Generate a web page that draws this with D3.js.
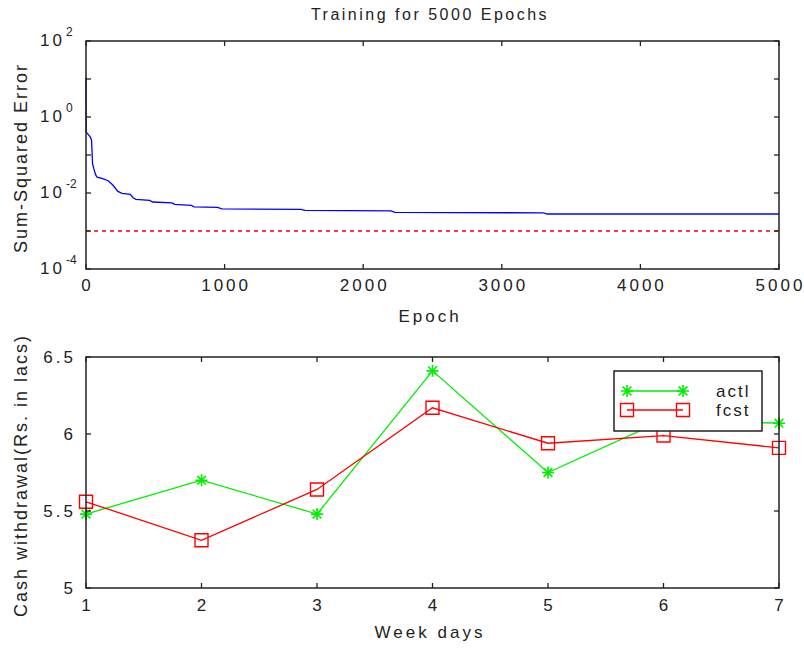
<!DOCTYPE html>
<html>
<head>
<meta charset="utf-8">
<script src="https://cdn.jsdelivr.net/npm/d3@7"></script>
<style>
  body { margin: 0; background: #fff; }
  text { font-family: "Liberation Sans", Arial, sans-serif; fill: #222; }
</style>
</head>
<body>
<svg id="chart"></svg>
<script>
// training curve (sum-squared error per epoch)
var epochs = [0, 2, 30, 40, 47, 55, 70, 80, 120, 160, 195, 230, 260, 320, 340, 360, 460, 480, 620, 640, 760, 780, 950, 980, 1550, 1580, 2200, 2230, 3300, 3330, 5000];
var sse    = [11, 0.4, 0.3, 0.25, 0.06, 0.045, 0.03, 0.026, 0.024, 0.021, 0.016, 0.011, 0.0098, 0.0092, 0.0075, 0.0068, 0.0064, 0.0058, 0.0055, 0.005, 0.0047, 0.0043, 0.0042, 0.0038, 0.0037, 0.0035, 0.0034, 0.0031, 0.003, 0.0028, 0.0028];
var goal = 0.001;
var epochTicks = [0, 1000, 2000, 3000, 4000, 5000];
var decadeTicks = [-4, -3, -2, -1, 0, 1, 2];
var decadeLabels = [-4, -2, 0, 2];

// forecast vs actual
var days = [1, 2, 3, 4, 5, 6, 7];
var actl = [5.48, 5.70, 5.48, 6.41, 5.75, 6.09, 6.07];
var fcst = [5.56, 5.31, 5.64, 6.17, 5.94, 5.99, 5.91];
var cashTicks = [5, 5.5, 6, 6.5];
var seriesNames = ["actl", "fcst"];

var width = 804, height = 648;
var svg = d3.select("#chart").attr("width", width).attr("height", height);

var left = 86, right = 779;
var top1 = 41, bot1 = 269;
var top2 = 357, bot2 = 588;
var axisColor = "#222", tickLen = 5;

// ---------- top plot ----------
var x1 = d3.scaleLinear().domain([0, 5000]).range([left, right]);
var y1 = d3.scaleLog().domain([1e-4, 1e2]).range([bot1, top1]);

var g1 = svg.append("g");

g1.append("path")
    .datum(epochs.map(function(e, i){ return [e, sse[i]]; }))
    .attr("fill", "none")
    .attr("stroke", "#0000ff")
    .attr("stroke-width", 1.3)
    .attr("d", d3.line().x(function(d){ return x1(d[0]); }).y(function(d){ return y1(d[1]); }));

g1.append("line")
    .attr("x1", x1(0)).attr("x2", x1(5000))
    .attr("y1", y1(goal)).attr("y2", y1(goal))
    .attr("stroke", "#ff0000")
    .attr("stroke-width", 1.3)
    .attr("stroke-dasharray", "4,4");

function frame(g, t, b) {
    g.append("rect")
        .attr("x", left).attr("y", t)
        .attr("width", right - left).attr("height", b - t)
        .attr("fill", "none").attr("stroke", axisColor).attr("stroke-width", 1.5);
}
frame(g1, top1, bot1);

epochTicks.forEach(function(v){
    var x = x1(v);
    g1.append("line").attr("x1", x).attr("x2", x).attr("y1", bot1).attr("y2", bot1 - tickLen).attr("stroke", axisColor).attr("stroke-width", 1.3);
    g1.append("line").attr("x1", x).attr("x2", x).attr("y1", top1).attr("y2", top1 + tickLen).attr("stroke", axisColor).attr("stroke-width", 1.3);
    g1.append("text")
        .attr("x", x + 1.5).attr("y", 291)
        .attr("text-anchor", "middle")
        .style("font-size", "17px").style("letter-spacing", "3px")
        .text(v);
});

decadeTicks.forEach(function(p){
    var y = y1(Math.pow(10, p));
    g1.append("line").attr("x1", left).attr("x2", left + tickLen).attr("y1", y).attr("y2", y).attr("stroke", axisColor).attr("stroke-width", 1.3);
    g1.append("line").attr("x1", right).attr("x2", right - tickLen).attr("y1", y).attr("y2", y).attr("stroke", axisColor).attr("stroke-width", 1.3);
});

decadeLabels.forEach(function(p){
    var y = y1(Math.pow(10, p));
    g1.append("text")
        .attr("x", 40).attr("y", y + 5)
        .style("font-size", "17px").style("letter-spacing", "3px")
        .text("10");
    g1.append("text")
        .attr("x", 66).attr("y", y - 5)
        .style("font-size", "12px")
        .text(p);
});

svg.append("text")
    .attr("x", 430).attr("y", 20)
    .attr("text-anchor", "middle")
    .style("font-size", "16px").style("letter-spacing", "2.5px")
    .text("Training for 5000 Epochs");

svg.append("text")
    .attr("x", 430).attr("y", 322)
    .attr("text-anchor", "middle")
    .style("font-size", "17px").style("letter-spacing", "3px")
    .text("Epoch");

svg.append("text")
    .attr("transform", "translate(27," + ((top1 + bot1) / 2 + 3) + ") rotate(-90)")
    .attr("text-anchor", "middle")
    .style("font-size", "18px").style("letter-spacing", "2px")
    .text("Sum-Squared Error");

// ---------- bottom plot ----------
var x2 = d3.scaleLinear().domain([1, 7]).range([left, right]);
var y2 = d3.scaleLinear().domain([5, 6.5]).range([bot2, top2]);

var g2 = svg.append("g");

var line2 = d3.line()
    .x(function(d, i){ return x2(days[i]); })
    .y(function(d){ return y2(d); });

// MATLAB style '*' marker: plus and cross
var star = {
    draw: function(ctx, size) {
        var r = Math.sqrt(size) / 2, q = r * 0.72;
        ctx.moveTo(-r, 0); ctx.lineTo(r, 0);
        ctx.moveTo(0, -r); ctx.lineTo(0, r);
        ctx.moveTo(-q, -q); ctx.lineTo(q, q);
        ctx.moveTo(-q, q); ctx.lineTo(q, -q);
    }
};
var starSym = d3.symbol(star, 144);
var squareSym = d3.symbol(d3.symbolSquare, 169);

var series = [
    { name: seriesNames[0], values: actl, color: "#00ee00", sym: starSym },
    { name: seriesNames[1], values: fcst, color: "#ff0000", sym: squareSym }
];

series.forEach(function(s){
    g2.append("path")
        .datum(s.values)
        .attr("fill", "none")
        .attr("stroke", s.color)
        .attr("stroke-width", 1.3)
        .attr("d", line2);
    g2.selectAll(null)
        .data(s.values)
        .enter().append("path")
        .attr("transform", function(d, i){ return "translate(" + x2(days[i]) + "," + y2(d) + ")"; })
        .attr("d", s.sym)
        .attr("fill", "none")
        .attr("stroke", s.color)
        .attr("stroke-width", s.sym === starSym ? 1.6 : 1.4);
});

frame(g2, top2, bot2);

days.forEach(function(v){
    var x = x2(v);
    g2.append("line").attr("x1", x).attr("x2", x).attr("y1", bot2).attr("y2", bot2 - tickLen).attr("stroke", axisColor).attr("stroke-width", 1.3);
    g2.append("line").attr("x1", x).attr("x2", x).attr("y1", top2).attr("y2", top2 + tickLen).attr("stroke", axisColor).attr("stroke-width", 1.3);
    g2.append("text")
        .attr("x", x + 1.5).attr("y", 611)
        .attr("text-anchor", "middle")
        .style("font-size", "17px").style("letter-spacing", "3px")
        .text(v);
});

cashTicks.forEach(function(v){
    var y = y2(v);
    g2.append("line").attr("x1", left).attr("x2", left + tickLen).attr("y1", y).attr("y2", y).attr("stroke", axisColor).attr("stroke-width", 1.3);
    g2.append("line").attr("x1", right).attr("x2", right - tickLen).attr("y1", y).attr("y2", y).attr("stroke", axisColor).attr("stroke-width", 1.3);
    g2.append("text")
        .attr("x", 76).attr("y", y + 6)
        .attr("text-anchor", "end")
        .style("font-size", "17px").style("letter-spacing", "3px")
        .text(v);
});

svg.append("text")
    .attr("x", 430).attr("y", 638)
    .attr("text-anchor", "middle")
    .style("font-size", "17px").style("letter-spacing", "3px")
    .text("Week days");

svg.append("text")
    .attr("transform", "translate(27," + ((top2 + bot2) / 2 + 3) + ") rotate(-90)")
    .attr("text-anchor", "middle")
    .style("font-size", "18px").style("letter-spacing", "2px")
    .text("Cash withdrawal(Rs. in lacs)");

// legend
var lg = svg.append("g").attr("transform", "translate(614,371)");
lg.append("rect")
    .attr("width", 148).attr("height", 60)
    .attr("fill", "#fff").attr("stroke", axisColor).attr("stroke-width", 1.5);

series.forEach(function(s, i){
    var ly = 20 + i * 19;
    lg.append("line").attr("x1", 13).attr("x2", 69).attr("y1", ly).attr("y2", ly)
        .attr("stroke", s.color).attr("stroke-width", 1.3);
    lg.selectAll(null).data([13, 69]).enter().append("path")
        .attr("transform", function(d){ return "translate(" + d + "," + ly + ")"; })
        .attr("d", s.sym)
        .attr("fill", "none").attr("stroke", s.color)
        .attr("stroke-width", s.sym === starSym ? 1.6 : 1.4);
    lg.append("text")
        .attr("x", 102).attr("y", ly + 6)
        .style("font-size", "17px").style("letter-spacing", "2px")
        .text(s.name);
});
</script>
</body>
</html>
